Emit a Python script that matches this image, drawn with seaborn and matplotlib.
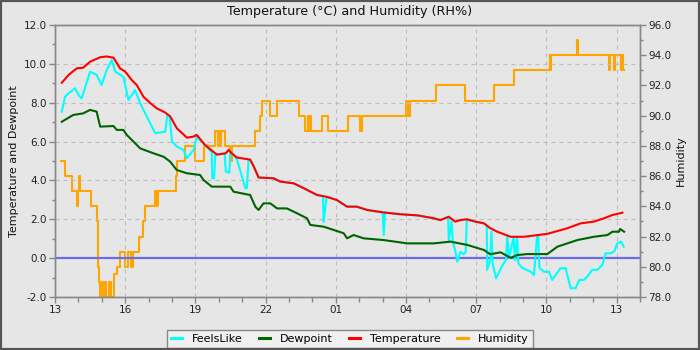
import matplotlib
matplotlib.use("Agg")
import matplotlib.pyplot as plt
import seaborn as sns
import pandas as pd
from matplotlib.lines import Line2D
from matplotlib.patches import Rectangle
from matplotlib.ticker import MultipleLocator, FormatStrFormatter

# ---------------- data (hours since 13:00) ----------------
x_tick_pos = [0, 3, 6, 9, 12, 15, 18, 21, 24]
x_tick_labels = ["13", "16", "19", "22", "01", "04", "07", "10", "13"]

temp_t = [0.29, 0.6, 0.93, 1.2, 1.5, 1.93, 2.2, 2.5, 2.78, 3.0, 3.28, 3.5, 3.78, 4.05,
          4.35, 4.7, 4.92, 5.21, 5.64, 5.9, 6.06, 6.35, 6.49, 6.92, 7.3, 7.42, 7.55,
          7.77, 8.34, 8.5, 8.7, 9.34, 9.63, 10.2, 10.63, 11.2, 11.6, 12.05, 12.48,
          12.9, 13.34, 14.05, 14.76, 15.5, 16.19, 16.47, 16.83, 17.1, 17.33, 17.6,
          17.97, 18.33, 18.6, 18.9, 19.47, 20.04, 21.04, 21.9, 22.46, 23.03, 23.46,
          23.82, 24.25]
temp_v = [9.03, 9.45, 9.77, 9.8, 10.11, 10.34, 10.38, 10.32, 9.77, 9.6, 9.17, 8.9, 8.31, 8.0,
          7.71, 7.5, 7.3, 6.68, 6.2, 6.25, 6.34, 5.91, 5.74, 5.33, 5.4, 5.57, 5.4,
          5.18, 5.07, 4.7, 4.15, 4.11, 3.94, 3.85, 3.6, 3.25, 3.16, 2.99, 2.65,
          2.65, 2.48, 2.35, 2.26, 2.2, 2.05, 1.96, 2.13, 1.88, 1.96, 2.0,
          1.88, 1.79, 1.54, 1.36, 1.1, 1.1, 1.25, 1.54, 1.79, 1.88, 2.05,
          2.22, 2.34]

dew_t = [0.29, 0.78, 1.2, 1.5, 1.78, 1.93, 2.5, 2.64, 2.92, 3.07, 3.64, 4.2, 4.64, 4.92,
         5.2, 5.63, 6.2, 6.35, 6.7, 7.49, 7.63, 8.34, 8.56, 8.7, 8.91, 9.2, 9.49, 9.91,
         10.34, 10.77, 10.91, 11.48, 11.91, 12.34, 12.48, 12.76, 13.19, 14.05, 15.05,
         16.19, 16.9, 17.62, 18.33, 18.6, 19.04, 19.47, 19.76, 20.18, 21.04, 21.47,
         22.32, 23.03, 23.61, 23.82, 24.1, 24.15, 24.32]
dew_v = [7.02, 7.37, 7.45, 7.63, 7.54, 6.77, 6.8, 6.6, 6.6, 6.34, 5.65, 5.4, 5.22, 4.97,
         4.54, 4.37, 4.28, 4.02, 3.68, 3.68, 3.42, 3.25, 2.65, 2.48, 2.82, 2.82, 2.56, 2.56,
         2.31, 2.05, 1.71, 1.62, 1.45, 1.28, 1.02, 1.19, 1.02, 0.93, 0.76,
         0.76, 0.85, 0.68, 0.42, 0.2, 0.3, 0.02, 0.16, 0.21, 0.21, 0.59,
         0.93, 1.1, 1.19, 1.36, 1.36, 1.5, 1.36]

feels_t = [0.29, 0.43, 0.57, 0.86, 1.0, 1.14, 1.5, 1.78, 1.99, 2.21, 2.43, 2.57, 2.92, 3.14,
           3.42, 3.64, 4.07, 4.28, 4.71, 4.8, 4.9, 5.0, 5.21, 5.49, 5.63, 5.92, 6.06,
           6.35, 6.49, 6.7, 6.72, 6.8, 6.85, 6.92, 7.25, 7.3, 7.45, 7.5, 7.63, 7.77,
           7.99, 8.13, 8.2, 8.27, 8.34, 8.5, 8.7, 9.34, 9.63, 10.2, 10.63, 11.2, 11.45,
           11.48, 11.55, 11.6, 12.05, 12.48, 12.9, 13.34, 14.0, 14.05, 14.1, 14.76,
           15.5, 16.19, 16.47, 16.8, 16.83, 16.95, 17.0, 17.1, 17.19, 17.33, 17.45,
           17.55, 17.6, 17.97, 18.33, 18.45, 18.47, 18.6, 18.65, 18.7, 18.85, 19.13,
           19.27, 19.33, 19.4, 19.6, 19.65, 19.75, 19.8, 19.97, 20.33, 20.47, 20.6,
           20.65, 20.7, 20.9, 21.11, 21.25, 21.6, 21.82, 22.04, 22.25, 22.4, 22.6,
           22.75, 22.96, 23.18, 23.39, 23.53, 23.75, 23.9, 24.03, 24.18, 24.3]
feels_v = [7.54, 8.31, 8.48, 8.74, 8.4, 8.23, 9.6, 9.43, 8.91, 9.68, 10.2, 9.6, 9.34, 8.14,
           8.65, 7.97, 6.94, 6.43, 6.51, 7.37, 7.3, 6.0, 5.74, 5.57, 5.14, 5.57, 6.25,
           5.91, 5.74, 5.45, 4.11, 4.11, 5.35, 5.33, 5.38, 4.45, 4.4, 5.5, 5.3, 5.1,
           4.2, 3.6, 3.6, 5.05, 5.07, 4.7, 4.15, 4.11, 3.94, 3.85, 3.6, 3.25, 3.2,
           1.88, 2.6, 3.16, 2.99, 2.65, 2.65, 2.48, 2.35, 1.19, 2.35, 2.26,
           2.2, 2.05, 1.96, 2.13, 0.9, 1.9, 0.8, 0.42, -0.18, 0.33, 0.2,
           0.3, 1.98, 1.88, 1.79, 1.7, -0.6, -0.1, 1.36, -0.27, -1.04, -0.35,
           -0.1, 1.1, 0.0, 1.1, -0.1, 1.1, -0.27, -0.5, -0.7, -0.87, 1.1,
           1.1, -0.5, -0.7, -0.7, -1.12, -0.52, -0.52, -1.55, -1.55, -1.12, -1.12,
           -0.95, -0.6, -0.6, -0.35, 0.25, 0.25, 0.35, 0.76, 0.85, 0.59]

hum_t = [0.26, 0.43, 0.71, 0.93, 0.98, 1.03, 1.08, 1.54, 1.78, 1.82, 1.88, 1.93, 2.0, 2.07,
         2.15, 2.2, 2.3, 2.38, 2.5, 2.64, 2.78, 3.0, 3.14, 3.25, 3.34, 3.6, 3.78, 3.85,
         4.28, 4.35, 4.42, 5.15, 5.21, 5.56, 6.0, 6.35, 6.85, 6.95, 7.0, 7.05, 7.1,
         7.27, 7.49, 7.57, 8.56, 8.77, 8.84, 9.2, 9.49, 10.41, 10.7, 10.8, 10.85, 10.9,
         10.95, 11.41, 11.65, 12.5, 13.02, 13.12, 15.0, 15.05, 15.12, 15.15, 15.19,
         16.3, 17.5, 18.75, 19.61, 21.14, 21.16, 21.18, 22.3, 22.35, 23.67, 23.73,
         23.89, 23.95, 24.19, 24.25, 24.29, 24.32]
hum_v = [87, 86, 85, 84, 85, 86, 85, 84, 83, 80, 79, 78, 79, 78,
         79, 78, 79, 78, 79.5, 80, 81, 80, 81, 80, 81, 82, 83, 84,
         85, 84, 85, 86, 87, 88, 87, 88, 89, 88, 89, 88, 89,
         88, 87, 88, 89, 90, 91, 90, 91, 90, 89, 90, 89, 90,
         89, 90, 89, 90, 89, 90, 91, 90, 91, 90, 91,
         92, 91, 92, 93, 94, 93, 94, 95, 94, 93, 94,
         93, 94, 93, 94, 93, 93]

series_names = ["FeelsLike", "Dewpoint", "Temperature", "Humidity"]
series_colors = ["#00ffff", "#006400", "#ff0000", "#ffa500"]

# ---------------- figure ----------------
BG = "#e6e6e6"
plt.rcParams["font.family"] = ["DejaVu Sans"]
fig = plt.figure(figsize=(7, 3.5), dpi=100, facecolor=BG)
ax = fig.add_axes([55 / 700, 53 / 350, 585 / 700, 272 / 350])
ax2 = ax.twinx()
ax.set_zorder(2)
ax.patch.set_visible(False)
ax2.set_zorder(1)
ax2.patch.set_visible(True)
ax2.patch.set_facecolor(BG)

ax.axhline(0, color="#6b6bee", lw=1.6, zorder=1)

sns.lineplot(x=hum_t, y=hum_v, ax=ax2, color=series_colors[3], lw=1.5,
             estimator=None, sort=False, drawstyle="steps-post")
sns.lineplot(x=feels_t, y=feels_v, ax=ax, color=series_colors[0], lw=1.5,
             estimator=None, sort=False, zorder=3)
sns.lineplot(x=dew_t, y=dew_v, ax=ax, color=series_colors[1], lw=1.5,
             estimator=None, sort=False, zorder=4)
sns.lineplot(x=temp_t, y=temp_v, ax=ax, color=series_colors[2], lw=1.5,
             estimator=None, sort=False, zorder=5)

ax.set_xlim(0, 25)
ax.set_ylim(-2, 12)
ax2.set_ylim(78, 96)

ax.set_xticks(x_tick_pos)
ax.set_xticklabels(x_tick_labels)
ax.xaxis.set_minor_locator(MultipleLocator(1))
ax.yaxis.set_major_locator(MultipleLocator(2))
ax.yaxis.set_minor_locator(MultipleLocator(1))
ax.yaxis.set_major_formatter(FormatStrFormatter("%.1f"))
ax2.yaxis.set_major_locator(MultipleLocator(2))
ax2.yaxis.set_minor_locator(MultipleLocator(1))
ax2.yaxis.set_major_formatter(FormatStrFormatter("%.1f"))

for a in (ax, ax2):
    a.tick_params(axis="both", which="major", direction="out", length=4, width=1,
                  color="#888888", labelsize=7.5, labelcolor="#222222", pad=2)
    a.tick_params(axis="y", which="minor", direction="out", length=2, width=1,
                  color="#888888")
    for s in a.spines.values():
        s.set_color("#888888")
        s.set_linewidth(1)
ax.tick_params(axis="x", which="minor", direction="out", length=3.5, width=1,
               color="#888888")

ax.set_axisbelow(True)
ax.grid(True, which="major", color="#bdbdbd", linestyle=(0, (3.6, 3.6)), lw=0.8)
ax2.grid(False)

ax.set_ylabel("Temperature and Dewpoint", fontsize=8, labelpad=3, color="#111111")
ax2.set_ylabel("Humidity", fontsize=8, labelpad=3, color="#111111")
ax.set_xlabel("")

fig.text(0.5, 1 - 12 / 350, "Temperature (°C) and Humidity (RH%)", ha="center",
         va="center", fontsize=9.2, color="#111111")

handles = [Line2D([], [], color=c, lw=2.2) for c in series_colors]
leg = fig.legend(handles, series_names, loc="lower center", bbox_to_anchor=(0.5, 2 / 350),
                 ncol=4, frameon=True, fancybox=False, edgecolor="#888888",
                 facecolor="#f0f0f0", framealpha=1, fontsize=8, handlelength=1.0,
                 handletextpad=0.9, columnspacing=1.45, borderpad=0.35,
                 borderaxespad=0)
leg.get_frame().set_linewidth(1)

fig.add_artist(Rectangle((0, 0), 1, 1, transform=fig.transFigure, fill=False,
                         edgecolor="#555555", lw=3, zorder=10))

fig.savefig("out.png", dpi=100, facecolor=BG)
